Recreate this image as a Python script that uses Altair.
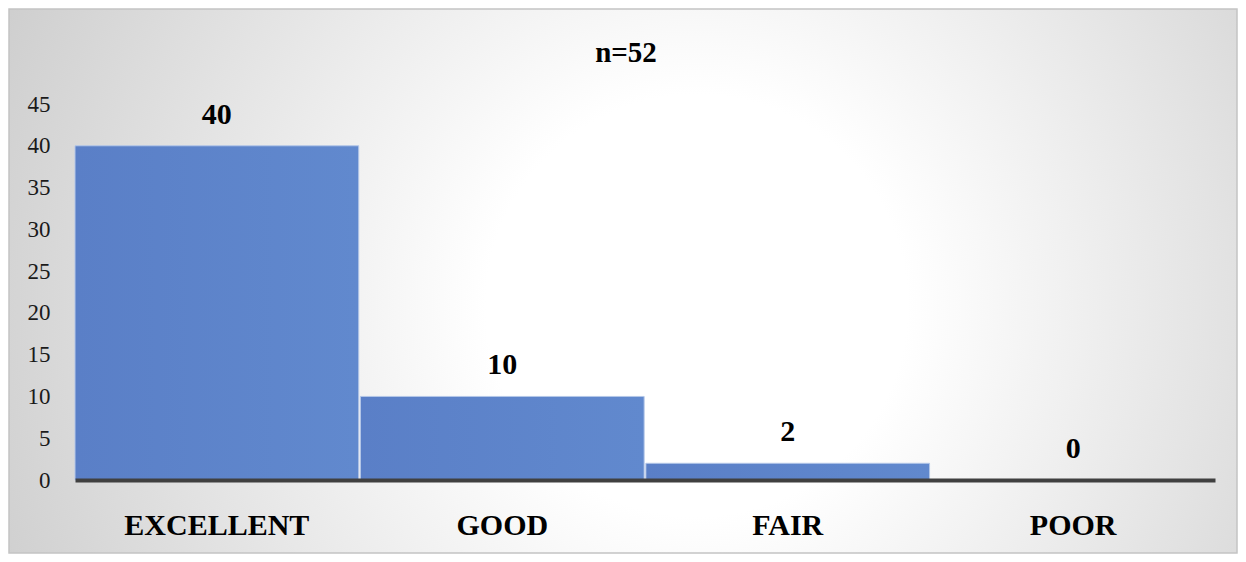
import altair as alt
import pandas as pd

categories = ["EXCELLENT", "GOOD", "FAIR", "POOR"]
counts = [40, 10, 2, 0]
y_ticks = [0, 5, 10, 15, 20, 25, 30, 35, 40, 45]
title_text = "n=52"

df = pd.DataFrame({"category": categories, "count": counts})

W, H = 1140, 376
PAD = {"left": 67, "top": 96, "right": 23, "bottom": 74}
SERIF = "Liberation Serif"

bg = alt.Chart(alt.Data(values=[{}])).mark_rect(
    fill=alt.RadialGradient(
        gradient="radial",
        stops=[
            alt.GradientStop(offset=0, color="#ffffff"),
            alt.GradientStop(offset=0.22, color="#ffffff"),
            alt.GradientStop(offset=1, color="#bcbcbc"),
        ],
        x1=0.56, y1=0.52, x2=0.56, y2=0.52, r1=0, r2=0.78,
    ),
    stroke="#c4c4c4",
    strokeWidth=1.5,
).encode(
    x=alt.value(-PAD["left"] + 1),
    x2=alt.value(W + PAD["right"] - 1),
    y=alt.value(-PAD["top"] + 1),
    y2=alt.value(H + PAD["bottom"] - 1),
)

title = alt.Chart(alt.Data(values=[{"t": title_text}])).mark_text(
    font=SERIF,
    fontSize=29,
    fontWeight="bold",
    color="#000000",
    baseline="alphabetic",
    align="center",
).encode(x=alt.value(551), y=alt.value(-42), text="t:N")

x_enc = alt.X(
    "category:N",
    sort=categories,
    scale=alt.Scale(paddingInner=0.006, paddingOuter=0),
    axis=alt.Axis(
        title=None,
        labelAngle=0,
        labelFont=SERIF,
        labelFontSize=30,
        labelFontWeight="bold",
        labelColor="#000000",
        labelPadding=30,
        labelLimit=0,
        ticks=False,
        domainColor="#404040",
        domainWidth=4,
        grid=False,
        zindex=1,
    ),
)
y_enc = alt.Y(
    "count:Q",
    scale=alt.Scale(domain=[0, 45], nice=False),
    axis=alt.Axis(
        title=None,
        values=y_ticks,
        labelFont=SERIF,
        labelFontSize=23,
        labelColor="#1a1a1a",
        labelPadding=25,
        ticks=False,
        domain=False,
        grid=False,
        zindex=1,
    ),
)

bars = alt.Chart(df).mark_bar(
    fill=alt.LinearGradient(
        gradient="linear",
        stops=[
            alt.GradientStop(offset=0, color="#5a7fc7"),
            alt.GradientStop(offset=1, color="#6189ce"),
        ],
        x1=0, x2=1, y1=0, y2=0,
    ),
    stroke="#b4c7e8",
    strokeWidth=1,
).encode(x=x_enc, y=y_enc)

labels = alt.Chart(df).mark_text(
    font=SERIF,
    fontSize=30,
    fontWeight="bold",
    color="#000000",
    baseline="middle",
    dy=-31,
).encode(x=alt.X("category:N", sort=categories), y="count:Q", text="count:Q")

chart = alt.layer(bg, bars, labels, title).properties(
    width=W,
    height=H,
    padding=PAD,
    autosize=alt.AutoSizeParams(type="none"),
).configure_view(stroke=None).configure(background="#ffffff")

chart.save("out.html", embed_options={"renderer": "svg", "actions": False})
